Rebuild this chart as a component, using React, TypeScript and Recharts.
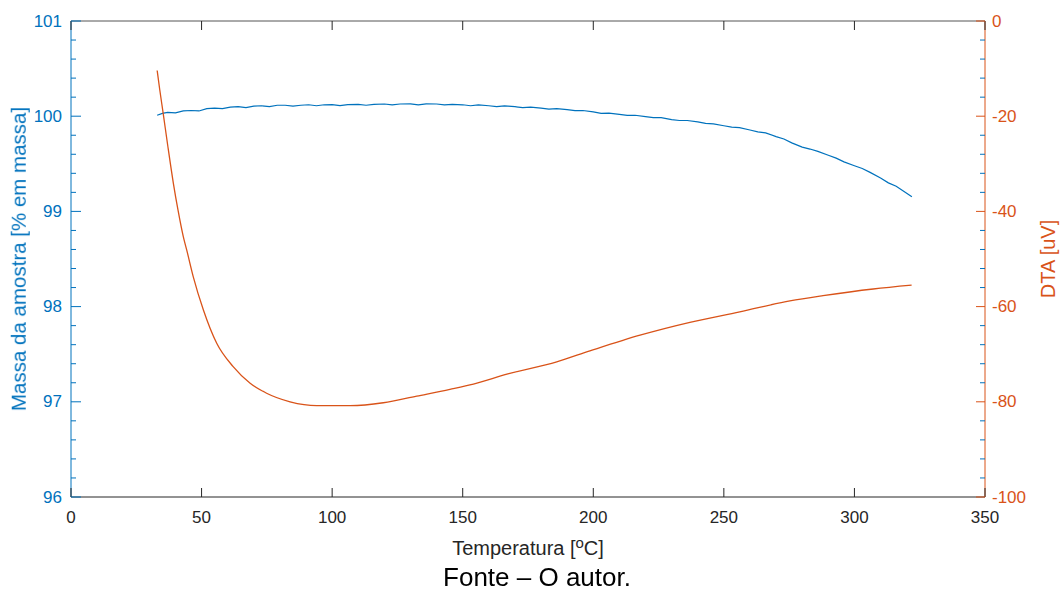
import { LineChart, Line, XAxis, YAxis } from "recharts";

// TGA mass curve (temperature °C, mass %)
const MASS_T = [
  33, 35, 37, 40, 43, 46, 49, 52, 55, 58, 61, 64, 67, 70, 73, 76, 79, 82, 85, 88,
  91, 94, 97, 100, 103, 106, 110, 113, 116, 120, 123, 126, 130, 133, 136, 140,
  143, 146, 150, 153, 156, 160, 163, 166, 170, 173, 176, 180, 183, 186, 190, 193,
  196, 200, 203, 206, 210, 213, 216, 220, 223, 226, 230, 233, 236, 240, 243, 246,
  250, 253, 256, 260, 263, 266, 270, 273, 276, 280, 283, 286, 290, 293, 296, 300,
  303, 306, 310, 313, 316, 319, 322,
];
const MASS_V = [
  100.01, 100.03, 100.04, 100.035, 100.055, 100.06, 100.055, 100.08, 100.085,
  100.08, 100.095, 100.1, 100.09, 100.105, 100.11, 100.1, 100.115, 100.115,
  100.105, 100.115, 100.12, 100.11, 100.12, 100.122, 100.112, 100.122, 100.125,
  100.115, 100.125, 100.128, 100.118, 100.128, 100.13, 100.12, 100.13, 100.128,
  100.118, 100.125, 100.12, 100.11, 100.118, 100.11, 100.1, 100.108, 100.1,
  100.09, 100.095, 100.085, 100.075, 100.08, 100.07, 100.058, 100.06, 100.045,
  100.03, 100.032, 100.02, 100.008, 100.01, 99.995, 99.985, 99.985, 99.965,
  99.955, 99.955, 99.94, 99.925, 99.92, 99.9, 99.885, 99.88, 99.855, 99.835,
  99.825, 99.785, 99.76, 99.72, 99.675, 99.655, 99.63, 99.59, 99.56, 99.52,
  99.48, 99.45, 99.41, 99.35, 99.3, 99.265, 99.21, 99.155,
];

// DTA curve (temperature °C, uV)
const DTA_T = [
  33, 34, 35.3, 37, 39.2, 41, 43, 44.3, 46.8, 50.7, 55.8, 62.1, 68.6, 74.9, 83.9,
  94.1, 106.9, 119.6, 132.4, 145.1, 154.1, 166.9, 186, 198.7, 217.9, 237, 256.1,
  275.3, 288, 307.2, 321.9,
];
const DTA_V = [
  -10.4, -14.5, -19.4, -26, -34.1, -39.8, -45.3, -48.1, -53.7, -60.7, -67.7,
  -72.6, -76.1, -78.2, -80, -80.8, -80.8, -80.2, -78.8, -77.4, -76.3, -74.2,
  -71.6, -69.3, -66, -63.3, -61.1, -58.8, -57.7, -56.3, -55.5,
];

const X_TICKS = [0, 50, 100, 150, 200, 250, 300, 350];
const LEFT_TICKS = [
  96, 96.2, 96.4, 96.6, 96.8, 97, 97.2, 97.4, 97.6, 97.8, 98, 98.2, 98.4, 98.6,
  98.8, 99, 99.2, 99.4, 99.6, 99.8, 100, 100.2, 100.4, 100.6, 100.8, 101,
];
const RIGHT_TICKS = [
  0, -4, -8, -12, -16, -20, -24, -28, -32, -36, -40, -44, -48, -52, -56, -60,
  -64, -68, -72, -76, -80, -84, -88, -92, -96, -100,
];

const massData = MASS_T.map((t, i) => ({ t, v: MASS_V[i] }));
const dtaData = DTA_T.map((t, i) => ({ t, v: DTA_V[i] }));

const BLUE = "#0072BD";
const ORANGE = "#D95319";
const DARK = "#262626";
const FONT = "'Liberation Sans', Arial, Helvetica, sans-serif";

function LeftTick(props: any) {
  const { x, y, payload } = props;
  const v = payload.value;
  const major = Math.abs(v - Math.round(v)) < 1e-6;
  return (
    <g>
      <line x1={x} y1={y} x2={x + (major ? 10 : 5)} y2={y} stroke={BLUE} />
      {major && (
        <text x={x - 9} y={y} textAnchor="end" dominantBaseline="central" fill={BLUE} fontSize={17} fontFamily={FONT}>
          {Math.round(v)}
        </text>
      )}
    </g>
  );
}

function RightTick(props: any) {
  const { x, y, payload } = props;
  const v = payload.value;
  const major = v % 20 === 0;
  return (
    <g>
      <line x1={x} y1={y} x2={x - (major ? 9 : 5)} y2={y} stroke={major ? ORANGE : BLUE} />
      {major && (
        <text x={x + 7} y={y} textAnchor="start" dominantBaseline="central" fill={ORANGE} fontSize={17} fontFamily={FONT}>
          {v}
        </text>
      )}
    </g>
  );
}

function BottomTick(props: any) {
  const { x, y, payload } = props;
  return (
    <g>
      <line x1={x} y1={y} x2={x} y2={y - 9} stroke={DARK} />
      <text x={x} y={y + 20} textAnchor="middle" dominantBaseline="central" fill={DARK} fontSize={17} fontFamily={FONT}>
        {payload.value}
      </text>
    </g>
  );
}

function TopTick(props: any) {
  const { x, y } = props;
  return <line x1={x} y1={y} x2={x} y2={y + 9} stroke={DARK} />;
}

const labelBase = {
  position: "absolute" as const,
  width: "max-content",
  whiteSpace: "nowrap" as const,
  lineHeight: 1,
};

export default function App() {
  return (
    <div style={{ position: "fixed", left: 8, top: 8, width: 1052, height: 582, fontFamily: FONT, background: "#fff" }}>
      <LineChart width={1052} height={560} margin={{ top: 0, right: 0, bottom: 0, left: 0 }}>
        <XAxis
          xAxisId="bottom"
          dataKey="t"
          type="number"
          domain={[0, 350]}
          ticks={X_TICKS}
          interval={0}
          height={71}
          tickSize={0}
          tickMargin={0}
          tickLine={false}
          axisLine={{ stroke: DARK }}
          tick={BottomTick}
        />
        <XAxis
          xAxisId="top"
          orientation="top"
          dataKey="t"
          type="number"
          domain={[0, 350]}
          ticks={X_TICKS}
          interval={0}
          height={13}
          tickSize={0}
          tickMargin={0}
          tickLine={false}
          axisLine={{ stroke: "#555" }}
          tick={TopTick}
        />
        <YAxis
          yAxisId="left"
          type="number"
          domain={[96, 101]}
          ticks={LEFT_TICKS}
          interval={0}
          width={63}
          tickSize={0}
          tickMargin={0}
          tickLine={false}
          axisLine={{ stroke: BLUE }}
          tick={LeftTick}
        />
        <YAxis
          yAxisId="right"
          orientation="right"
          type="number"
          domain={[-100, 0]}
          ticks={RIGHT_TICKS}
          interval={0}
          width={75}
          tickSize={0}
          tickMargin={0}
          tickLine={false}
          axisLine={{ stroke: ORANGE }}
          tick={RightTick}
        />
        <Line
          xAxisId="bottom"
          yAxisId="left"
          data={massData}
          dataKey="v"
          type="linear"
          stroke={BLUE}
          strokeWidth={1.2}
          dot={false}
          activeDot={false}
          isAnimationActive={false}
        />
        <Line
          xAxisId="top"
          yAxisId="right"
          data={dtaData}
          dataKey="v"
          type="monotone"
          stroke={ORANGE}
          strokeWidth={1.3}
          dot={false}
          activeDot={false}
          isAnimationActive={false}
        />
      </LineChart>
      <div style={{ ...labelBase, left: 11, top: 251, transform: "translate(-50%, -50%) rotate(-90deg)", color: BLUE, fontSize: 20.5 }}>
        Massa da amostra [% em massa]
      </div>
      <div style={{ ...labelBase, left: 1040, top: 251, transform: "translate(-50%, -50%) rotate(-90deg)", color: ORANGE, fontSize: 20 }}>
        DTA [uV]
      </div>
      <div style={{ ...labelBase, left: 520, top: 540, transform: "translate(-50%, -50%)", color: DARK, fontSize: 20 }}>
        Temperatura [<span style={{ fontSize: 15, position: "relative", top: -7 }}>o</span>C]
      </div>
      <div style={{ ...labelBase, left: 529, top: 569, transform: "translate(-50%, -50%)", color: "#000", fontSize: 26 }}>
        Fonte – O autor.
      </div>
    </div>
  );
}
